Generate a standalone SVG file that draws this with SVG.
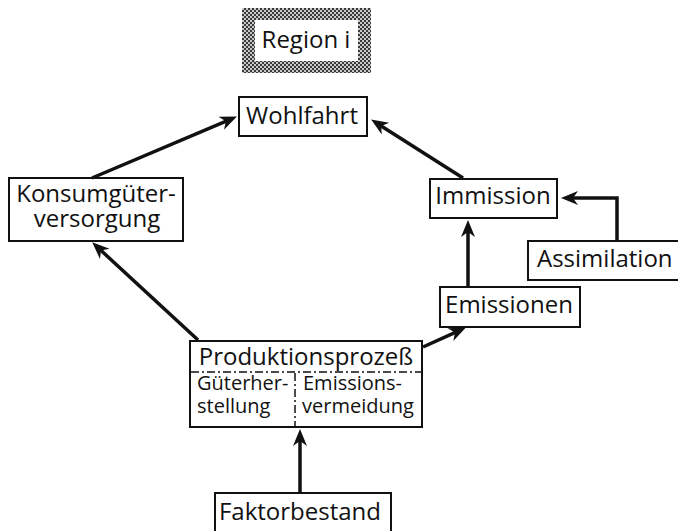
<svg xmlns="http://www.w3.org/2000/svg" width="678" height="531" viewBox="0 0 678 531">
<style>
.box{fill:#fff;stroke:#111;stroke-width:2}
.t{font-family:"Open Sans","Liberation Sans",sans-serif;font-size:24px;fill:#111}
.s{font-family:"Open Sans","Liberation Sans",sans-serif;font-size:20px;fill:#111}
.c{text-anchor:middle}
.arr{fill:none;stroke:#111;stroke-width:3.5}
.dd{stroke:#111;stroke-width:1.5;stroke-dasharray:8 3 2 3;fill:none}
</style>
<defs>
<pattern id="hatch" patternUnits="userSpaceOnUse" width="4" height="4">
<rect width="4" height="4" fill="#c8c8c8"/>
<rect width="2" height="2" fill="#3a3a3a"/>
<rect x="2" y="2" width="2" height="2" fill="#3a3a3a"/>
</pattern>
<marker id="ah" markerUnits="userSpaceOnUse" markerWidth="30" markerHeight="20" viewBox="0 0 30 20" refX="10" refY="10" orient="auto" overflow="visible">
<path d="M21,10 L4,3 L9,10 L4,17 Z" fill="#111"/>
</marker>
</defs>
<rect width="678" height="531" fill="#fff"/>

<g id="region">
<rect x="242" y="8" width="129" height="65" fill="url(#hatch)"/>
<rect x="255" y="20" width="103" height="41" fill="#fff"/>
<text class="t c" x="306" y="48">Region i</text>
</g>

<g id="wohlfahrt">
<rect class="box" x="239" y="97" width="128" height="39"/>
<text class="t c" x="302" y="124">Wohlfahrt</text>
</g>

<g id="konsum">
<rect class="box" x="9" y="178" width="174" height="63"/>
<text class="t c" x="96" y="202">Konsumgüter-</text>
<text class="t c" x="97" y="227">versorgung</text>
</g>

<g id="immission">
<rect class="box" x="430" y="179" width="127" height="39"/>
<text class="t c" x="493" y="204">Immission</text>
</g>

<g id="assimilation">
<rect class="box" x="528" y="241" width="160" height="39"/>
<text class="t" x="537" y="267">Assimilation</text>
</g>

<g id="emissionen">
<rect class="box" x="440" y="287" width="140" height="40"/>
<text class="t c" x="509" y="313">Emissionen</text>
</g>

<g id="produktion">
<rect class="box" x="190" y="341" width="232" height="86"/>
<line class="dd" x1="191" y1="372" x2="421" y2="372"/>
<line class="dd" x1="295" y1="373" x2="295" y2="426"/>
<text class="t c" x="306" y="365">Produktionsprozeß</text>
<text class="s" x="197" y="390">Güterher-</text>
<text class="s" x="197" y="413">stellung</text>
<text class="s" x="303" y="390">Emissions-</text>
<text class="s" x="302" y="413">vermeidung</text>
</g>

<g id="faktor">
<rect class="box" x="215" y="493" width="176" height="45"/>
<text class="t c" x="300" y="520">Faktorbestand</text>
</g>

<g id="connectors">
<path class="arr" d="M92,178 L226.8,120.9" marker-end="url(#ah)"/>
<path class="arr" d="M463,178 L380.4,125.4" marker-end="url(#ah)"/>
<path class="arr" d="M198,340 L100.3,249.8" marker-end="url(#ah)"/>
<path class="arr" d="M423,347 L455.9,332.1" marker-end="url(#ah)"/>
<path class="arr" d="M468,287 L468,231" marker-end="url(#ah)"/>
<path class="arr" d="M617,241 V198 H572" marker-end="url(#ah)"/>
<path class="arr" d="M300,493 V440" marker-end="url(#ah)"/>
</g>
</svg>
